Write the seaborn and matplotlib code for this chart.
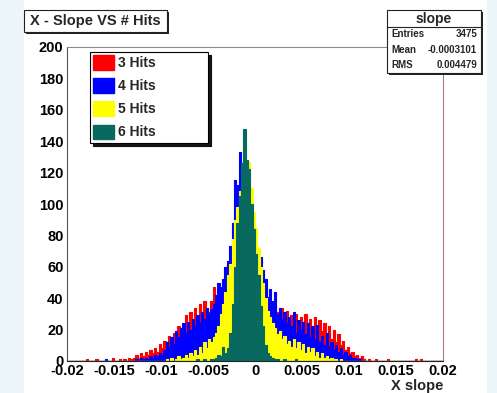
import numpy as np
import pandas as pd
import matplotlib
matplotlib.use("Agg")
import matplotlib.pyplot as plt
from matplotlib.patches import Rectangle, Patch
from matplotlib.lines import Line2D
from matplotlib.ticker import MultipleLocator, FuncFormatter
import seaborn as sns

# Binning of the slope histograms
slope_lo, slope_hi, n_bins = -0.02, 0.02, 160

# Bin contents (160 bins of 0.00025 from -0.02 to 0.02)
hits3 = [
    0, 0, 0, 0, 0, 0, 0, 0, 1, 0, 0, 0, 1, 0, 0, 0, 0, 0, 0, 2,
    0, 0, 1, 0, 1, 0, 2, 1, 2, 4, 2, 5, 3, 6, 4, 7, 5, 8, 6, 11,
    8, 13, 10, 16, 12, 18, 14, 22, 15, 19, 29, 19, 31, 22, 34, 24, 36, 26, 38, 28,
    31, 38, 47, 33, 40, 44, 42, 48, 50, 58, 62, 70, 76, 82, 90, 86, 80, 78, 72, 66,
    60, 52, 50, 45, 40, 36, 33, 30, 35, 31, 26, 34, 22, 32, 20, 29, 24, 30, 19, 28,
    22, 30, 18, 27, 21, 28, 17, 26, 19, 24, 15, 22, 14, 20, 12, 17, 10, 13, 7, 9,
    5, 6, 3, 4, 2, 3, 1, 0, 1, 0, 0, 1, 0, 0, 0, 0, 1, 0, 0, 0,
    0, 0, 0, 0, 0, 0, 0, 0, 1, 0, 1, 0, 0, 0, 0, 0, 0, 0, 0, 0,
]
hits4 = [
    0, 0, 0, 0, 0, 0, 0, 0, 0, 0, 0, 0, 0, 0, 0, 0, 1, 0, 0, 0,
    0, 0, 0, 0, 0, 0, 0, 0, 0, 1, 0, 2, 1, 2, 1, 3, 2, 4, 3, 5,
    4, 7, 12, 9, 15, 11, 19, 15, 21, 24, 18, 25, 20, 27, 22, 29, 25, 31, 27, 34,
    30, 33, 36, 42, 50, 47, 52, 60, 64, 73, 88, 115, 112, 133, 120, 125, 100, 95, 88, 80,
    70, 62, 66, 58, 52, 41, 46, 38, 44, 30, 34, 27, 31, 24, 28, 22, 31, 18, 26, 20,
    25, 17, 24, 15, 22, 14, 23, 12, 16, 10, 18, 9, 12, 7, 10, 6, 8, 4, 6, 3,
    4, 2, 2, 1, 1, 0, 0, 0, 0, 0, 0, 0, 0, 0, 0, 0, 0, 0, 0, 0,
    0, 0, 0, 0, 0, 0, 0, 0, 0, 0, 0, 0, 0, 0, 0, 0, 0, 0, 0, 0,
]
hits5 = [
    0, 0, 0, 0, 0, 0, 0, 0, 0, 0, 0, 0, 0, 0, 0, 0, 0, 0, 0, 0,
    0, 0, 0, 0, 0, 0, 0, 0, 0, 0, 0, 0, 0, 0, 0, 0, 0, 0, 0, 0,
    0, 0, 1, 0, 2, 0, 1, 3, 1, 2, 4, 2, 5, 3, 7, 4, 9, 5, 12, 8,
    14, 12, 15, 18, 22, 30, 36, 44, 55, 62, 78, 90, 98, 108, 112, 115, 118, 127, 110, 95,
    85, 72, 60, 50, 40, 32, 28, 24, 21, 17, 19, 14, 16, 11, 13, 9, 14, 8, 12, 7,
    11, 5, 9, 6, 8, 3, 6, 2, 5, 2, 3, 1, 2, 1, 1, 0, 1, 0, 0, 0,
    0, 0, 0, 0, 0, 0, 0, 0, 0, 0, 0, 0, 0, 0, 0, 0, 0, 0, 0, 0,
    0, 0, 0, 0, 0, 0, 0, 0, 0, 0, 0, 0, 0, 0, 0, 0, 0, 0, 0, 0,
]
hits6 = [
    0, 0, 0, 0, 0, 0, 0, 0, 0, 0, 0, 0, 0, 0, 0, 0, 0, 0, 0, 0,
    0, 0, 0, 0, 0, 0, 0, 0, 0, 0, 0, 0, 0, 0, 0, 0, 0, 0, 0, 0,
    0, 0, 0, 0, 0, 0, 0, 0, 0, 0, 0, 0, 0, 0, 0, 1, 0, 0, 1, 0,
    0, 1, 1, 2, 4, 3, 9, 5, 8, 18, 36, 60, 88, 105, 126, 148, 128, 122, 100, 84,
    68, 55, 35, 22, 10, 5, 3, 2, 1, 1, 0, 0, 1, 0, 0, 0, 0, 1, 0, 0,
    0, 0, 0, 0, 0, 0, 0, 0, 0, 0, 0, 0, 0, 0, 0, 0, 0, 0, 0, 0,
    0, 0, 0, 0, 0, 0, 0, 0, 0, 0, 0, 0, 0, 0, 0, 0, 0, 0, 0, 0,
    0, 0, 0, 0, 0, 0, 0, 0, 0, 0, 0, 0, 0, 0, 0, 0, 0, 0, 0, 0,
]

series_labels = ["3 Hits", "4 Hits", "5 Hits", "6 Hits"]
series_colors = ["#ff0000", "#0000ff", "#ffff00", "#08695e"]

title_text = "X - Slope VS # Hits"
stats_name = "slope"
stats_rows = [("Entries", "3475"), ("Mean", "-0.0003101"), ("RMS", "0.004479")]
x_label = "X slope"

sns.set_theme(style="white")
plt.rcParams["font.family"] = ["Liberation Sans", "DejaVu Sans"]
plt.rcParams["font.weight"] = "bold"

W, H = 497, 393
fig = plt.figure(figsize=(W / 100, H / 100), dpi=100)
fig.patch.set_facecolor("white")


def fx(px):
    return px / W


def fy(py):
    return 1 - py / H


# pale page bands at both sides
for x0, x1 in [(0, 24), (487, W)]:
    fig.patches.append(Rectangle((fx(x0), 0), fx(x1) - fx(x0), 1, transform=fig.transFigure,
                                 facecolor="#edf7fa", edgecolor="none", zorder=-5))

ax_top, ax_bottom = 47, 361
ax = fig.add_axes([fx(67), fy(ax_bottom), fx(443) - fx(67), fy(ax_top) - fy(ax_bottom)])
ax.set_facecolor("white")

edges = np.linspace(slope_lo, slope_hi, n_bins + 1)
centers = 0.5 * (edges[:-1] + edges[1:])
bin_edges = [float(e) for e in edges]

for counts, label, color in zip([hits3, hits4, hits5, hits6], series_labels, series_colors):
    frame = pd.DataFrame({"slope": centers, "entries": counts})
    sns.histplot(data=frame, x="slope", weights="entries", bins=bin_edges, element="step",
                 fill=True, color=color, edgecolor=color, alpha=1, linewidth=0.8, ax=ax,
                 label=label)

ax.set_xlim(slope_lo, slope_hi)
ax.set_ylim(0, 200)
ax.set_ylabel("")
ax.set_xlabel(x_label, fontsize=10.5, fontweight="bold", ha="right", va="top")
ax.xaxis.set_label_coords(1.0, -(379 - ax_bottom) / (ax_bottom - ax_top))

ax.xaxis.set_major_locator(MultipleLocator(0.005))
ax.xaxis.set_minor_locator(MultipleLocator(0.001))
ax.yaxis.set_major_locator(MultipleLocator(20))
ax.yaxis.set_minor_locator(MultipleLocator(4))
ax.xaxis.set_major_formatter(FuncFormatter(lambda v, p: "0" if abs(v) < 1e-12 else f"{v:g}"))
ax.tick_params(which="both", direction="in", top=False, right=False, color="#444444",
               labelcolor="black")
ax.tick_params(which="major", length=7, width=0.7, labelsize=10.5, pad=2.5)
ax.tick_params(which="minor", length=3.5, width=0.7)

for side, col in [("top", "#8a8a8a"), ("right", "#b07878"), ("left", "#555555"), ("bottom", "#222222")]:
    ax.spines[side].set_color(col)
    ax.spines[side].set_linewidth(0.8)

# legend
handles = [Patch(facecolor=c, edgecolor=c) for c in series_colors]
leg = ax.legend(handles, series_labels, loc="upper left",
                bbox_to_anchor=(fx(90), fy(146), fx(208) - fx(90), fy(52) - fy(146)),
                bbox_transform=fig.transFigure, mode="expand", borderaxespad=0,
                prop={"weight": "bold", "size": 10}, handlelength=1.5, handleheight=1.22,
                labelspacing=0.585, handletextpad=0.3, borderpad=0.25, fancybox=False,
                framealpha=1, edgecolor="black",
                shadow={"ox": 2, "oy": -2, "color": "black", "alpha": 0.9})
leg.get_frame().set_linewidth(0.8)


def shadow_box(x0, y0, x1, y1, off=2):
    fig.patches.append(Rectangle((fx(x0 + off), fy(y1 + off)), fx(x1) - fx(x0), fy(y0) - fy(y1),
                                 transform=fig.transFigure, facecolor="#222222",
                                 edgecolor="none", zorder=5))
    fig.patches.append(Rectangle((fx(x0), fy(y1)), fx(x1) - fx(x0), fy(y0) - fy(y1),
                                 transform=fig.transFigure, facecolor="white",
                                 edgecolor="#222222", linewidth=0.8, zorder=6))


# title box
shadow_box(24, 10, 167, 32)
fig.text(fx(95.5), fy(21), title_text, ha="center", va="center", fontsize=10.5,
         fontweight="bold", zorder=7)

# statistics box
shadow_box(387, 10, 481, 73)
fig.add_artist(Line2D([fx(387), fx(481)], [fy(27), fy(27)], color="#222222", linewidth=0.8,
                      zorder=7))
fig.text(fx(434), fy(18.5), stats_name, ha="center", va="center", fontsize=10,
         fontweight="bold", zorder=7)
for (name, val), yy in zip(stats_rows, [34, 50, 65]):
    fig.text(fx(391.5), fy(yy), name, ha="left", va="center", fontsize=7,
             fontweight="bold", zorder=7)
    fig.text(fx(477), fy(yy), val, ha="right", va="center", fontsize=7,
             fontweight="bold", zorder=7)

fig.savefig("out.png", dpi=100)
